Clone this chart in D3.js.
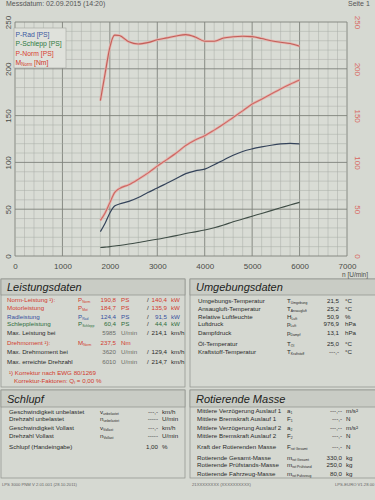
<!DOCTYPE html>
<html>
<head>
<meta charset="utf-8">
<script src="https://cdnjs.cloudflare.com/ajax/libs/d3/7.8.5/d3.min.js"></script>
<style>
  body { margin: 0; background: #d6d9d2; }
  svg { display: block; font-family: "Liberation Sans", Arial, sans-serif; }
  .axis path { display: none; }
  .axis text { font-size: 8px; fill: #4a4c48; }
</style>
</head>
<body>
<div id="chart"></div>
<script>
// rpm samples along the run
var rpm      = [1800,1900,2000,2100,2200,2400,2600,2800,3000,3200,3400,3600,3800,4000,4200,4400,4600,4800,5000,5200,5400,5600,5800,6000];
var mNorm    = [166,195,223,236,235.5,228.8,226.5,228,231,233,235,236.5,234,229.5,229.5,233,234.2,234.7,234.4,232.3,230,228.3,227,224];
var pNorm    = [38,46,57,67.7,72,76.2,82,88.5,96,103,110,118,124,128.5,134.5,141,148,155,162.3,167.5,173,178.5,183.5,188];
var pRad     = [26,35,46,53.4,55.5,58.3,62.5,67.8,72.6,77.7,82.8,88,91,92.8,97.5,102.6,107.7,111.7,114.4,116.5,118.3,119.7,120.4,119.8];
var pSchlepp = [9,9.5,10,10.6,11.3,12.8,14.5,16.3,17.9,19.8,21.8,24,25.8,27.7,30.2,33.2,36.5,39.5,42.5,45.5,48.5,51.5,54.5,57.3];

var xTicks = [0,1000,2000,3000,4000,5000,6000,7000];
var yTicks = [0,50,100,150,200,250];

var legendNames  = ["P-Rad [PS]", "P-Schlepp [PS]", "P-Norm [PS]", "M"];
var legendColors = ["#3a58a0", "#2e7a40", "#d8402f", "#d0361f"];

// result tables
var leistungRows = [
  ["Norm-Leistung \u00b9):", "P", "Norm", "190,8", "PS", "/", "140,4", "kW", "#d23a2e"],
  ["Motorleistung", "P", "Mot", "184,7", "PS", "/", "135,9", "kW", "#d23a2e"],
  ["Radleistung", "P", "Rad", "124,4", "PS", "/", "91,5", "kW", "#3550a0"],
  ["Schleppleistung", "P", "Schlepp", "60,4", "PS", "/", "44,4", "kW", "#2d6d3c"],
  ["Max. Leistung bei", "", "", "5985", "U/min", "/", "214,1", "km/h", "#2a2a2a"],
  ["Drehmoment \u00b9):", "M", "Norm", "237,5", "Nm", "", "", "", "#d23a2e"],
  ["Max. Drehmoment bei", "", "", "3620", "U/min", "/", "129,4", "km/h", "#2a2a2a"],
  ["Max. erreichte Drehzahl", "", "", "6010", "U/min", "/", "214,7", "km/h", "#2a2a2a"]
];
var leistungY = [302, 310, 318.5, 326, 334.5, 344.5, 353.5, 363.5];

var umgebungRows = [
  ["Umgebungs-Temperatur", "T", "Umgebung", "21,5", "\u00b0C"],
  ["Ansaugluft-Temperatur", "T", "Ansaugluft", "25,2", "\u00b0C"],
  ["Relative Luftfeuchte", "H", "Luft", "50,9", "%"],
  ["Luftdruck", "p", "Luft", "976,9", "hPa"],
  ["Dampfdruck", "p", "Dampf", "13,1", "hPa"],
  ["\u00d6l-Temperatur", "T", "\u00d6l", "25,0", "\u00b0C"],
  ["Kraftstoff-Temperatur", "T", "Kraftstoff", "---,-", "\u00b0C"]
];
var umgebungY = [302.5, 310.5, 318.5, 326, 334.5, 345.5, 353.5];

var schlupfRows = [
  ["Geschwindigkeit unbelastet", "v", "unbelastet", "---,-", "km/h"],
  ["Drehzahl unbelastet", "n", "unbelastet", "-----", "U/min"],
  ["Geschwindigkeit Vollast", "v", "Vollast", "---,-", "km/h"],
  ["Drehzahl Vollast", "n", "Vollast", "-----", "U/min"],
  ["Schlupf (Handeingabe)", "", "", "1,00", "%"]
];
var schlupfY = [413.5, 421, 429.5, 437.5, 448.5];

var masseRows = [
  ["Mittlere Verz\u00f6gerung Auslauf 1", "a", "1", "---,--", "m/s\u00b2"],
  ["Mittlere Bremskraft Auslauf 1", "F", "1", "---,-", "N"],
  ["Mittlere Verz\u00f6gerung Auslauf 2", "a", "2", "---,--", "m/s\u00b2"],
  ["Mittlere Bremskraft Auslauf 2", "F", "2", "---,-", "N"],
  ["Kraft der Rotierenden Masse", "F", "rot Gesamt", "---,-", "N"],
  ["Rotierende Gesamt-Masse", "m", "rot Gesamt", "330,0", "kg"],
  ["Rotierende Pr\u00fcfstands-Masse", "m", "rot Pr\u00fcfstand", "250,0", "kg"],
  ["Rotierende Fahrzeug-Masse", "m", "rot Fahrzeug", "80,0", "kg"]
];
var masseY = [412.5, 421, 429.5, 437.5, 448.5, 459.5, 467, 475.5];

var width = 375, height = 500;
var svg = d3.select("#chart").append("svg")
    .attr("width", width)
    .attr("height", height);

//scales
var x = d3.scaleLinear().domain([0, 7000]).range([15, 347]);
var y = d3.scaleLinear().domain([0, 250]).range([256, 22]);

//top line of the printout
svg.append("text").attr("x", 6).attr("y", 6).style("font-size", "7px").style("fill", "#555")
  .text("Messdatum: 02.09.2015 (14:20)");
svg.append("text").attr("x", 348).attr("y", 6).style("font-size", "7px").style("fill", "#555")
  .text("Seite 1");

//plot paper
svg.append("rect")
  .attr("x", x(0)).attr("y", y(250))
  .attr("width", x(7000) - x(0)).attr("height", y(0) - y(250))
  .attr("fill", "#d9dcd5");

//grid
var grid = svg.append("g").attr("class", "grid");
grid.selectAll("line.v")
  .data(d3.range(0, 7001, 200))
  .enter().append("line")
    .attr("x1", function(d) { return x(d); })
    .attr("x2", function(d) { return x(d); })
    .attr("y1", y(0)).attr("y2", y(250))
    .attr("stroke", function(d) { return d % 1000 === 0 ? "#7f827c" : "#a9aca6"; })
    .attr("stroke-width", function(d) { return d % 1000 === 0 ? 0.9 : 0.5; });
grid.selectAll("line.h")
  .data(d3.range(0, 251, 10))
  .enter().append("line")
    .attr("y1", function(d) { return y(d); })
    .attr("y2", function(d) { return y(d); })
    .attr("x1", x(0)).attr("x2", x(7000))
    .attr("stroke", function(d) { return d % 50 === 0 ? "#7f827c" : "#a9aca6"; })
    .attr("stroke-width", function(d) { return d % 50 === 0 ? 0.9 : 0.5; });

//axes
svg.append("g")
    .attr("class", "x axis")
    .attr("transform", "translate(0," + (y(0) + 4) + ")")
    .call(d3.axisBottom(x).tickValues(xTicks).tickSize(0).tickFormat(d3.format("d")));

//tick groups are already translated to y(d), labels only need the rotation
svg.append("g")
    .attr("class", "y axis")
    .call(d3.axisLeft(y).tickValues(yTicks).tickSize(0))
  .selectAll("text")
    .attr("x", 0).attr("dy", 0)
    .style("text-anchor", "middle")
    .attr("transform", "translate(11,0) rotate(-90)");

svg.append("g")
    .attr("class", "y2 axis")
    .call(d3.axisRight(y).tickValues(yTicks).tickSize(0))
  .selectAll("text")
    .attr("x", 0).attr("dy", 0)
    .style("text-anchor", "middle")
    .style("fill", "#d9675e")
    .attr("transform", "translate(355,0) rotate(90)");

svg.append("text")
  .attr("x", 342).attr("y", 277)
  .style("font-size", "6.5px").style("fill", "#4a4c48")
  .text("n [U/min]");

//curves
var pts = function(vals) { return rpm.map(function(r, i) { return [r, vals[i]]; }); };
var line = d3.line()
    .x(function(d) { return x(d[0]); })
    .y(function(d) { return y(d[1]); })
    .curve(d3.curveMonotoneX);

var curves = svg.append("g");
//pale halo under the red traces, like the printer ink
curves.append("path").datum(pts(mNorm)).attr("d", line)
  .attr("fill", "none").attr("stroke", "#e7b3ad").attr("stroke-width", 2.6);
curves.append("path").datum(pts(pNorm)).attr("d", line)
  .attr("fill", "none").attr("stroke", "#e7b3ad").attr("stroke-width", 2.6);

curves.append("path").datum(pts(mNorm)).attr("d", line)
  .attr("fill", "none").attr("stroke", "#c2605a").attr("stroke-width", 1.1);
curves.append("path").datum(pts(pNorm)).attr("d", line)
  .attr("fill", "none").attr("stroke", "#cc6a65").attr("stroke-width", 1.1);
curves.append("path").datum(pts(pRad)).attr("d", line)
  .attr("fill", "none").attr("stroke", "#34435a").attr("stroke-width", 1.2);
curves.append("path").datum(pts(pSchlepp)).attr("d", line)
  .attr("fill", "none").attr("stroke", "#3f4d46").attr("stroke-width", 1.1);

//legend
var legend = svg.append("g");
legend.append("rect")
  .attr("x", 14).attr("y", 28).attr("width", 52).attr("height", 40)
  .attr("fill", "#dfe1db").attr("stroke", "#a3a6a0").attr("stroke-width", 0.6);
legendNames.forEach(function(n, i) {
  var t = legend.append("text")
    .attr("x", 15.5).attr("y", 37 + i * 9.3)
    .style("font-size", "6.8px").style("fill", legendColors[i])
    .text(n);
  if (n === "M") {
    t.append("tspan").attr("dy", 1.5).style("font-size", "4.5px").text("Norm");
    t.append("tspan").attr("dy", -1.5).text(" [Nm]");
  }
});

//panels
var panels = svg.append("g");
function panel(x0, y0, w, h, bandTop, bandH, title) {
  panels.append("rect").attr("x", x0).attr("y", y0).attr("width", w).attr("height", h)
    .attr("fill", "#d5d8d1").attr("stroke", "#8e918b").attr("stroke-width", 0.7);
  panels.append("rect").attr("x", x0).attr("y", bandTop).attr("width", w).attr("height", bandH)
    .attr("fill", "#c9ccc5").attr("stroke", "#8e918b").attr("stroke-width", 0.7);
  panels.append("text").attr("x", x0 + 6).attr("y", bandTop + bandH - 4)
    .style("font-size", "11px").style("font-style", "italic").style("fill", "#1d1e1c")
    .text(title);
}
panel(1, 279, 184, 108, 279, 16, "Leistungsdaten");
panel(190, 279, 186, 108, 279, 16, "Umgebungsdaten");
panel(1, 390, 184, 88, 390, 17, "Schlupf");
panel(190, 390, 186, 88, 390, 17, "Rotierende Masse");

var fs = "6.2px";
function sym(g, xx, yy, s, sub, col) {
  if (!s) return;
  var t = g.append("text").attr("x", xx).attr("y", yy).style("font-size", fs).style("fill", col).text(s);
  t.append("tspan").attr("dy", 1.4).style("font-size", "3.4px").text(sub);
}
function txt(g, xx, yy, s, col, anchor) {
  g.append("text").attr("x", xx).attr("y", yy)
    .style("font-size", fs).style("fill", col)
    .style("text-anchor", anchor || "start").text(s);
}

var tab = svg.append("g");
leistungRows.forEach(function(r, i) {
  var yy = leistungY[i], c = r[8];
  var grey = c === "#2a2a2a";
  txt(tab, 7, yy, r[0], c);
  sym(tab, 78, yy, r[1], r[2], c);
  txt(tab, 116, yy, r[3], grey ? "#6c6e69" : c, "end");
  txt(tab, 121, yy, r[4], grey ? "#6c6e69" : c);
  txt(tab, 147, yy, r[5], "#2a2a2a");
  txt(tab, 167, yy, r[6], c, "end");
  txt(tab, 171, yy, r[7], c);
});
txt(tab, 9, 374.5, "\u00b9) Korrektur nach EWG 80/1269", "#d23a2e");
var kf = tab.append("text").attr("x", 14).attr("y", 382.5).style("font-size", fs).style("fill", "#d23a2e")
  .text("Korrektur-Faktoren: Q");
kf.append("tspan").attr("dy", 1.4).style("font-size", "3.4px").text("f");
kf.append("tspan").attr("dy", -1.4).text(" =   0,00 %");

umgebungRows.forEach(function(r, i) {
  var yy = umgebungY[i];
  txt(tab, 198, yy, r[0], "#2a2a2a");
  sym(tab, 287, yy, r[1], r[2], "#2a2a2a");
  txt(tab, 339, yy, r[3], "#2a2a2a", "end");
  txt(tab, 345, yy, r[4], "#2a2a2a");
});

schlupfRows.forEach(function(r, i) {
  var yy = schlupfY[i];
  txt(tab, 9, yy, r[0], "#2a2a2a");
  sym(tab, 100, yy, r[1], r[2], "#2a2a2a");
  txt(tab, 158, yy, r[3], "#2a2a2a", "end");
  txt(tab, 162, yy, r[4], "#2a2a2a");
});

masseRows.forEach(function(r, i) {
  var yy = masseY[i];
  txt(tab, 197, yy, r[0], "#2a2a2a");
  sym(tab, 287, yy, r[1], r[2], "#2a2a2a");
  txt(tab, 342, yy, r[3], "#2a2a2a", "end");
  txt(tab, 346, yy, r[4], "#2a2a2a");
});

//footer
svg.append("text").attr("x", 2).attr("y", 485.5).style("font-size", "4.2px").style("fill", "#666")
  .text("LPS 3000 PNM V 2.01.001 (28.10.2011)");
svg.append("text").attr("x", 192).attr("y", 485.5).style("font-size", "4.2px").style("fill", "#666")
  .text("21XXXXXXXX (XXXXXXXXXX)");
svg.append("text").attr("x", 335).attr("y", 485.5).style("font-size", "4.2px").style("fill", "#666")
  .text("LPS-EURO V1.28.00");
</script>
</body>
</html>
